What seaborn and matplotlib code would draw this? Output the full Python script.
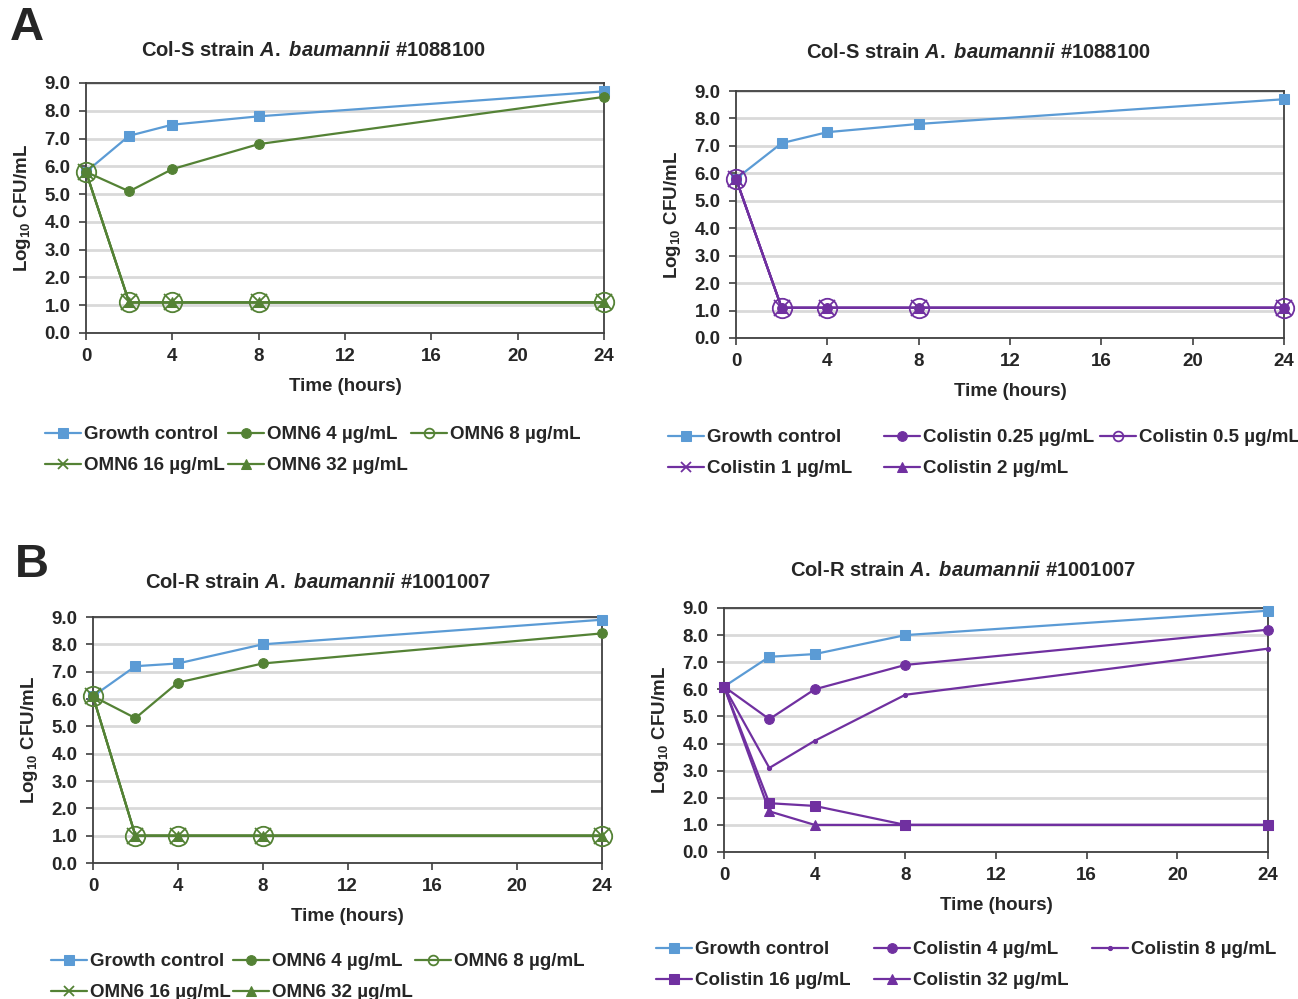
import matplotlib
matplotlib.use("Agg")
import matplotlib.pyplot as plt
import seaborn as sns

hours = [0, 2, 4, 8, 24]

# Col-S strain A. baumannii #1088100
gc_s = [5.8, 7.1, 7.5, 7.8, 8.7]
omn6_4_s = [5.8, 5.1, 5.9, 6.8, 8.5]
omn6_8_s = [5.8, 1.1, 1.1, 1.1, 1.1]
omn6_16_s = [5.8, 1.1, 1.1, 1.1, 1.1]
omn6_32_s = [5.8, 1.1, 1.1, 1.1, 1.1]
col_025_s = [5.8, 1.1, 1.1, 1.1, 1.1]
col_05_s = [5.8, 1.1, 1.1, 1.1, 1.1]
col_1_s = [5.8, 1.1, 1.1, 1.1, 1.1]
col_2_s = [5.8, 1.1, 1.1, 1.1, 1.1]

# Col-R strain A. baumannii #1001007
gc_r = [6.1, 7.2, 7.3, 8.0, 8.9]
omn6_4_r = [6.1, 5.3, 6.6, 7.3, 8.4]
omn6_8_r = [6.1, 1.0, 1.0, 1.0, 1.0]
omn6_16_r = [6.1, 1.0, 1.0, 1.0, 1.0]
omn6_32_r = [6.1, 1.0, 1.0, 1.0, 1.0]
col_4_r = [6.1, 4.9, 6.0, 6.9, 8.2]
col_8_r = [6.1, 3.1, 4.1, 5.8, 7.5]
col_16_r = [6.1, 1.8, 1.7, 1.0, 1.0]
col_32_r = [6.1, 1.5, 1.0, 1.0, 1.0]

BLUE = "#5B9BD5"
GREEN = "#548235"
PURPLE = "#7030A0"

marker_kw = {
    "sq": dict(marker="s", markersize=7.5),
    "dot": dict(marker="o", markersize=7),
    "ring": dict(marker="o", markersize=14, markerfacecolor="none", markeredgewidth=1.3),
    "x": dict(marker="x", markersize=12, markeredgewidth=1.3),
    "tri": dict(marker="^", markersize=7),
    "tiny": dict(marker="o", markersize=3),
}

panels = [
    dict(title=r"Col-S strain $\mathit{A.}$ $\mathit{baumannii}$ #1088100",
         rect=[86, 83, 604, 333], title_xy=(313, 50),
         leg_xy=(45, 426), colw=183,
         series=[("Growth control", gc_s, BLUE, "sq"),
                 ("OMN6 4 µg/mL", omn6_4_s, GREEN, "dot"),
                 ("OMN6 8 µg/mL", omn6_8_s, GREEN, "ring"),
                 ("OMN6 16 µg/mL", omn6_16_s, GREEN, "x"),
                 ("OMN6 32 µg/mL", omn6_32_s, GREEN, "tri")]),
    dict(title=r"Col-S strain $\mathit{A.}$ $\mathit{baumannii}$ #1088100",
         rect=[736, 91, 1284, 338], title_xy=(978, 53),
         leg_xy=(668, 429), colw=216,
         series=[("Growth control", gc_s, BLUE, "sq"),
                 ("Colistin 0.25 µg/mL", col_025_s, PURPLE, "dot"),
                 ("Colistin 0.5 µg/mL", col_05_s, PURPLE, "ring"),
                 ("Colistin 1 µg/mL", col_1_s, PURPLE, "x"),
                 ("Colistin 2 µg/mL", col_2_s, PURPLE, "tri")]),
    dict(title=r"Col-R strain $\mathit{A.}$ $\mathit{baumannii}$ #1001007",
         rect=[93, 617, 602, 863], title_xy=(318, 583),
         leg_xy=(51, 953), colw=182,
         series=[("Growth control", gc_r, BLUE, "sq"),
                 ("OMN6 4 µg/mL", omn6_4_r, GREEN, "dot"),
                 ("OMN6 8 µg/mL", omn6_8_r, GREEN, "ring"),
                 ("OMN6 16 µg/mL", omn6_16_r, GREEN, "x"),
                 ("OMN6 32 µg/mL", omn6_32_r, GREEN, "tri")]),
    dict(title=r"Col-R strain $\mathit{A.}$ $\mathit{baumannii}$ #1001007",
         rect=[724, 608, 1268, 852], title_xy=(963, 570),
         leg_xy=(656, 941), colw=218,
         series=[("Growth control", gc_r, BLUE, "sq"),
                 ("Colistin 4 µg/mL", col_4_r, PURPLE, "dot"),
                 ("Colistin 8 µg/mL", col_8_r, PURPLE, "tiny"),
                 ("Colistin 16 µg/mL", col_16_r, PURPLE, "sq"),
                 ("Colistin 32 µg/mL", col_32_r, PURPLE, "tri")]),
]

sns.set_style("ticks")
plt.rcParams["font.family"] = ["Liberation Sans", "DejaVu Sans"]
plt.rcParams["font.weight"] = "bold"
plt.rcParams["mathtext.fontset"] = "custom"
plt.rcParams["mathtext.rm"] = "Liberation Sans:bold"
plt.rcParams["mathtext.it"] = "Liberation Sans:italic:bold"
plt.rcParams["mathtext.bf"] = "Liberation Sans:bold"

W, H = 1298, 999
fig = plt.figure(figsize=(W / 100, H / 100), dpi=100)

for p in panels:
    x0, y0, x1, y1 = p["rect"]
    ax = fig.add_axes([x0 / W, 1 - y1 / H, (x1 - x0) / W, (y1 - y0) / H])
    for label, vals, color, mk in p["series"]:
        sns.lineplot(x=hours, y=vals, ax=ax, color=color, label=label,
                     linewidth=1.6, clip_on=False, zorder=3,
                     markeredgecolor=color, **marker_kw[mk])
    ax.set_xlim(0, 24)
    ax.set_ylim(0, 9)
    ax.set_xticks(range(0, 25, 4))
    ax.set_yticks(range(0, 10))
    ax.set_yticklabels([f"{v:.1f}" for v in range(0, 10)])
    ax.tick_params(axis="both", labelsize=13.5, direction="out", length=5,
                   width=1.2, color="#404040", pad=6)
    ax.grid(axis="y", color="#D9D9D9", linewidth=2, zorder=0)
    ax.set_axisbelow(True)
    for s in ax.spines.values():
        s.set_color("#404040")
        s.set_linewidth(1.3)
    ax.set_xlabel("Time (hours)", fontsize=13.5, fontweight="bold", labelpad=9)
    ax.set_ylabel(r"Log$_{10}$ CFU/mL", fontsize=13.5, fontweight="bold", labelpad=8)
    fig.text(p["title_xy"][0] / W, 1 - p["title_xy"][1] / H, p["title"],
             ha="center", va="center", fontsize=14.5, fontweight="bold")

    # Excel-style legend: three equal-width columns, filled row by row
    handles, labels = ax.get_legend_handles_labels()
    ax.get_legend().remove()
    for c in range(3):
        idx = [i for i in range(len(handles)) if i % 3 == c]
        leg = fig.legend([handles[i] for i in idx], [labels[i] for i in idx],
                         loc="upper left",
                         bbox_to_anchor=((p["leg_xy"][0] + c * p["colw"]) / W,
                                         1 - p["leg_xy"][1] / H),
                         frameon=False, prop=dict(size=13.5, weight="bold"),
                         handlelength=1.9, handletextpad=0.2,
                         labelspacing=0.75, borderaxespad=0, borderpad=0)
        for h in leg.legend_handles:
            h.set_markersize(min(h.get_markersize(), 7))

fig.text(10 / W, 1 - 28 / H, "A", fontsize=34, fontweight="bold", va="center")
fig.text(15 / W, 1 - 565 / H, "B", fontsize=34, fontweight="bold", va="center")

fig.savefig("out.png", dpi=100)
